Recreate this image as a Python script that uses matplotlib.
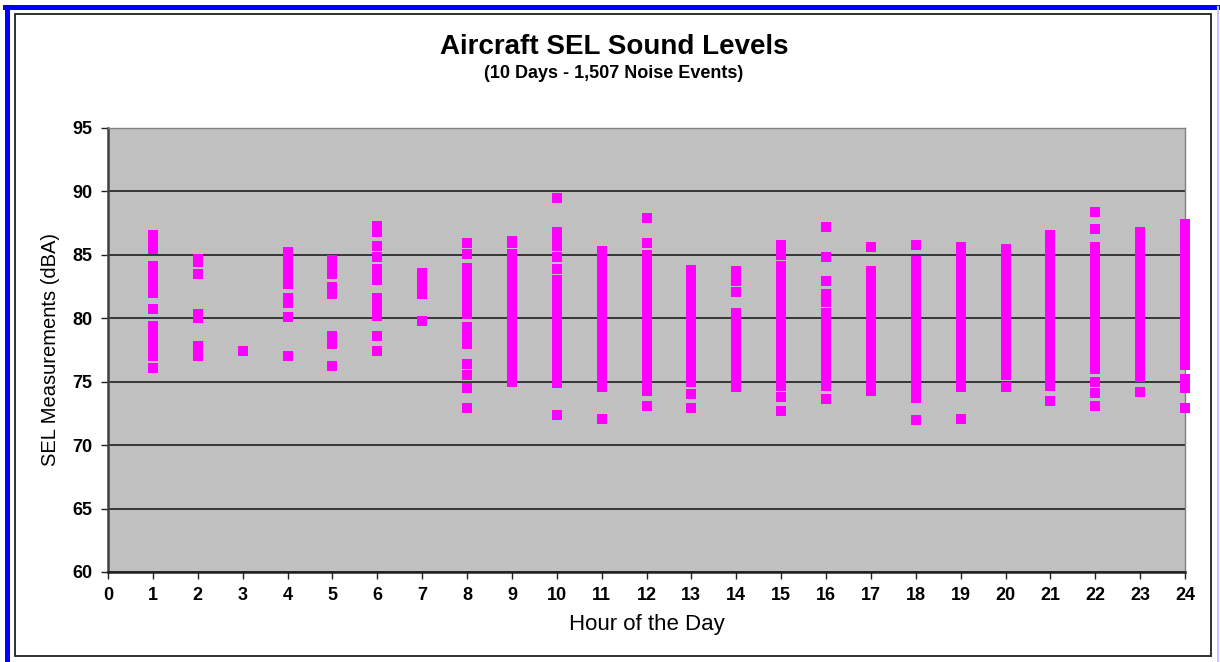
import matplotlib
matplotlib.use("Agg")
import matplotlib.pyplot as plt
from matplotlib.lines import Line2D

#SEL readings (dBA) per hour of the day
hour_01 = [86.6, 86.0, 85.5, 84.1, 83.6, 83.0, 82.5, 82.0, 80.7, 79.4, 78.9, 78.4, 77.9, 77.4, 77.0, 76.1]
hour_02 = [84.7, 84.4, 83.5, 80.3, 80.0, 77.8, 77.0]
hour_03 = [77.4]
hour_04 = [85.2, 84.7, 84.2, 83.7, 83.2, 82.7, 81.6, 81.2, 80.1, 77.0]
hour_05 = [84.6, 84.0, 83.5, 82.5, 81.9, 78.6, 78.0, 76.2]
hour_06 = [87.3, 86.8, 85.7, 84.8, 83.9, 83.4, 83.0, 81.6, 81.0, 80.5, 80.2, 78.6, 77.4]
hour_07 = [83.6, 83.1, 82.4, 81.9, 79.8]
hour_08 = [85.9, 85.1, 84.0, 83.5, 83.0, 82.4, 81.8, 81.3, 80.8, 80.3, 79.3, 78.8, 78.3, 78.0,
           76.4, 75.5, 74.5, 72.9]
hour_09 = [86.1, 85.9, 85.1, 84.6, 84.1, 83.6, 83.1, 82.6, 82.1, 81.6, 81.1, 80.6, 80.1, 79.6,
           79.1, 78.6, 78.1, 77.6, 77.1, 76.6, 76.1, 75.7, 75.0]
hour_10 = [89.5, 86.8, 86.3, 85.7, 84.8, 83.9, 83.0, 82.5, 82.0, 81.5, 81.0, 80.5, 80.0, 79.5,
           79.0, 78.5, 78.0, 77.5, 77.0, 76.5, 76.0, 75.5, 74.9, 72.4]
hour_11 = [85.3, 84.8, 84.3, 83.8, 83.3, 82.8, 82.3, 81.8, 81.3, 80.8, 80.3, 79.8, 79.3, 78.8,
           78.3, 77.8, 77.3, 76.8, 76.3, 75.8, 75.3, 74.8, 74.6, 72.1]
hour_12 = [87.9, 85.9, 85.0, 84.3, 83.8, 83.3, 82.8, 82.3, 81.8, 81.3, 80.8, 80.3, 79.8, 79.3,
           78.8, 78.3, 77.8, 77.3, 76.8, 76.3, 75.8, 75.3, 75.0, 74.3, 73.1]
hour_13 = [83.8, 83.3, 82.8, 82.3, 81.8, 81.3, 80.8, 80.3, 79.8, 79.3, 78.8, 78.3, 77.8, 77.3,
           76.8, 76.3, 75.8, 75.3, 75.0, 74.0, 72.9]
hour_14 = [83.7, 83.2, 82.9, 82.1, 80.4, 79.9, 79.4, 78.9, 78.4, 77.9, 77.4, 76.9, 76.4, 75.9,
           75.4, 74.6]
hour_15 = [85.8, 85.0, 84.1, 83.4, 82.7, 82.2, 81.6, 80.9, 80.4, 79.9, 79.4, 78.9, 78.4, 77.9,
           77.4, 76.9, 76.4, 75.9, 75.4, 74.9, 74.7, 73.8, 72.7]
hour_16 = [87.2, 84.8, 82.9, 81.9, 81.3, 80.4, 79.9, 79.4, 78.9, 78.4, 77.9, 77.4, 76.9, 76.4,
           75.9, 75.4, 74.9, 74.7, 73.6]
hour_17 = [85.6, 83.7, 83.2, 82.7, 82.2, 81.7, 81.2, 80.7, 80.2, 79.7, 79.2, 78.7, 78.2, 77.7,
           77.2, 76.7, 76.2, 75.7, 75.2, 74.7, 74.3]
hour_18 = [85.8, 84.5, 84.0, 83.5, 83.0, 82.5, 82.0, 81.5, 81.0, 80.5, 80.0, 79.5, 79.0, 78.5,
           78.0, 77.5, 77.0, 76.5, 76.0, 75.5, 75.0, 74.5, 74.0, 73.7, 72.0]
hour_19 = [85.6, 84.8, 84.3, 83.8, 83.3, 82.8, 82.3, 81.8, 81.3, 80.8, 80.3, 79.8, 79.3, 78.8,
           78.3, 77.8, 77.3, 76.8, 76.3, 75.8, 75.5, 75.0, 74.6, 72.1]
hour_20 = [85.5, 85.0, 84.5, 84.0, 83.5, 83.0, 82.5, 82.0, 81.5, 81.0, 80.5, 80.0, 79.5, 79.0,
           78.5, 78.0, 77.5, 77.0, 76.5, 76.0, 75.5, 74.6]
hour_21 = [86.6, 86.1, 85.6, 85.1, 84.6, 84.1, 83.6, 83.1, 82.6, 82.1, 81.6, 81.1, 80.6, 80.1,
           79.6, 79.1, 78.6, 78.1, 77.6, 77.1, 76.6, 76.1, 75.6, 75.1, 74.7, 73.5]
hour_22 = [88.4, 87.0, 85.6, 85.1, 84.6, 84.1, 83.6, 83.1, 82.6, 82.1, 81.6, 81.1, 80.6, 80.1,
           79.6, 79.1, 78.6, 78.1, 77.6, 77.1, 76.6, 76.0, 75.0, 74.1, 73.1]
hour_23 = [86.8, 86.3, 85.8, 85.3, 84.8, 84.3, 83.8, 83.3, 82.8, 82.3, 81.8, 81.3, 80.8, 80.3,
           79.8, 79.3, 78.8, 78.3, 77.8, 77.3, 76.8, 76.3, 75.8, 75.4, 74.2]
hour_24 = [87.4, 86.9, 86.4, 85.9, 85.4, 84.9, 84.4, 83.9, 83.4, 82.9, 82.4, 81.9, 81.4, 80.9,
           80.4, 79.9, 79.4, 78.9, 78.4, 77.9, 77.4, 76.9, 76.3, 75.2, 74.5, 72.9]

readings = [hour_01, hour_02, hour_03, hour_04, hour_05, hour_06, hour_07, hour_08,
            hour_09, hour_10, hour_11, hour_12, hour_13, hour_14, hour_15, hour_16,
            hour_17, hour_18, hour_19, hour_20, hour_21, hour_22, hour_23, hour_24]
hour_ticks = list(range(0, 25))
sel_ticks = [60, 65, 70, 75, 80, 85, 90, 95]

title = 'Aircraft SEL Sound Levels'
subtitle = '(10 Days - 1,507 Noise Events)'

plt.rcParams['font.family'] = ['Liberation Sans', 'DejaVu Sans']

W, H = 1220, 662
fig = plt.figure(figsize=(W / 100, H / 100), dpi=100)
fig.patch.set_facecolor('white')

#outer blue frame and inner chart border (pixel coords -> figure fraction)
def fx(px):
  return px / W
def fy(py):
  return 1 - py / H

fig.add_artist(Line2D([fx(6.5), fx(6.5)], [fy(7), fy(662)], color='#0000FF', lw=3.6))
fig.add_artist(Line2D([fx(5), fx(1218)], [fy(7), fy(7)], color='#0000FF', lw=3.6))
fig.add_artist(Line2D([fx(1218), fx(1218)], [fy(7), fy(662)], color='#C8C8FF', lw=1.5))
fig.add_artist(plt.Rectangle((fx(15), fy(656)), fx(1211) - fx(15), fy(14) - fy(656),
                             fill=False, edgecolor='#202020', lw=1.3))

ax = fig.add_axes([fx(108), fy(572), fx(1185) - fx(108), fy(128) - fy(572)])
ax.set_facecolor('#C0C0C0')

#scatter each hour's readings
for i, vals in enumerate(readings):
  hr = i + 1
  ax.plot([hr] * len(vals), vals, linestyle='none', marker='s', markersize=6.5,
          color='#FF00FF', markeredgewidth=0, clip_on=False, zorder=3)

ax.set_xlim(0, 24)
ax.set_ylim(60, 95)
ax.set_xticks(hour_ticks)
ax.set_yticks(sel_ticks)
ax.tick_params(axis='both', direction='out', length=5, width=1, color='#202020',
               labelsize=13, pad=6)
for lbl in ax.get_xticklabels() + ax.get_yticklabels():
  lbl.set_fontweight('bold')

ax.yaxis.grid(True, color='#202020', lw=1.2)
ax.set_axisbelow(True)
ax.spines['left'].set_color('#404040')
ax.spines['left'].set_linewidth(1.8)
ax.spines['bottom'].set_color('#202020')
ax.spines['bottom'].set_linewidth(1.8)
ax.spines['top'].set_color('#808080')
ax.spines['top'].set_linewidth(1)
ax.spines['right'].set_color('#808080')
ax.spines['right'].set_linewidth(1)

ax.set_xlabel('Hour of the Day', fontsize=16, labelpad=7)
ax.set_ylabel('SEL Measurements (dBA)', fontsize=14.5, labelpad=9)

fig.text(fx(614), fy(47), title, ha='center', va='center', fontsize=20, fontweight='bold')
fig.text(fx(614), fy(73), subtitle, ha='center', va='center', fontsize=13, fontweight='bold')

plt.savefig('out.png', dpi=100)
